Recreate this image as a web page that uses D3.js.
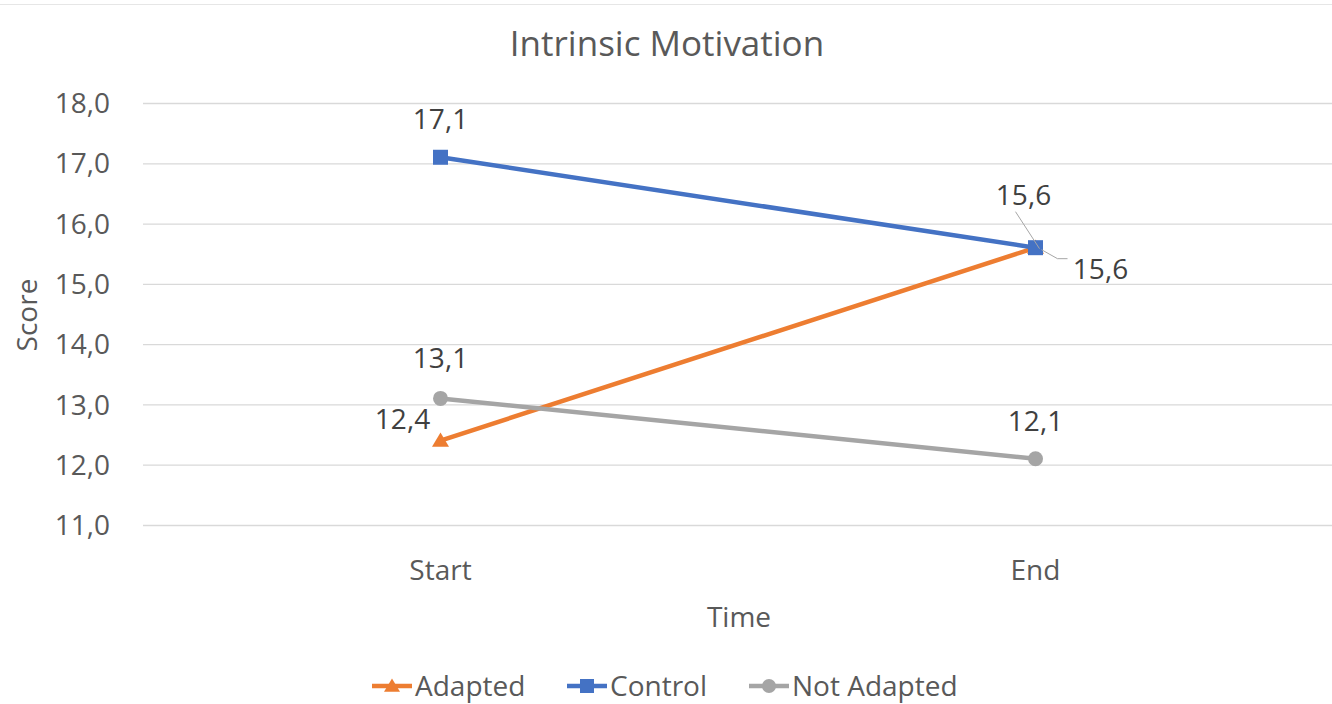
<!DOCTYPE html>
<html><head><meta charset="utf-8">
<script src="https://cdn.jsdelivr.net/npm/d3@7"></script>
<style>body{margin:0;background:#fff;}svg{display:block;}</style>
</head><body>
<svg id="c" width="1332" height="704"></svg>
<script>
const categories = ["Start", "End"];
const seriesNames = ["Adapted", "Control", "Not Adapted"];
const adapted = [12.4, 15.6];
const control = [17.1, 15.6];
const notAdapted = [13.1, 12.1];
const yTicks = [11, 12, 13, 14, 15, 16, 17, 18];
const colors = ["#ED7D31", "#4472C4", "#A5A5A5"];
const markers = ["triangle", "square", "circle"];
const seriesValues = [adapted, control, notAdapted];

const svg = d3.select("#c");
const font = "'Open Sans', sans-serif";
const fs = 28;
const fmt = v => d3.format(".1f")(v).replace(".", ",");

const x = d3.scaleBand().domain(categories).range([143, 1333]);
const y = d3.scaleLinear().domain([11, 18]).range([525, 103]);
const xc = c => x(c) + x.bandwidth() / 2;

svg.append("line").attr("x1", 0).attr("x2", 1332).attr("y1", 4.5).attr("y2", 4.5).attr("stroke", "#e6e6e6");

// gridlines
svg.append("g").selectAll("line").data(yTicks).join("line")
  .attr("x1", 143).attr("x2", 1332)
  .attr("y1", d => y(d) + 0.5).attr("y2", d => y(d) + 0.5)
  .attr("stroke", "#d9d9d9").attr("stroke-width", 1.3);

// y tick labels
svg.append("g").selectAll("text").data(yTicks).join("text")
  .attr("x", 110).attr("y", d => y(d)).attr("dy", "0.36em")
  .attr("text-anchor", "end").attr("font-family", font).attr("font-size", fs)
  .attr("fill", "#595959").text(d => fmt(d));

// x labels
svg.append("g").selectAll("text").data(categories).join("text")
  .attr("x", d => xc(d)).attr("y", 580)
  .attr("text-anchor", "middle").attr("font-family", font).attr("font-size", fs)
  .attr("fill", "#595959").text(d => d);

// title
svg.append("text").attr("x", 667).attr("y", 56).attr("text-anchor", "middle")
  .attr("font-family", font).attr("font-size", 35).attr("fill", "#595959").text("Intrinsic Motivation");
// axis titles
svg.append("text").attr("x", 739).attr("y", 627).attr("text-anchor", "middle")
  .attr("font-family", font).attr("font-size", fs).attr("fill", "#595959").text("Time");
svg.append("text").attr("transform", "translate(37,315) rotate(-90)").attr("text-anchor", "middle")
  .attr("font-family", font).attr("font-size", fs).attr("fill", "#595959").text("Score");

function drawMarker(g, type, cx, cy, color, s) {
  if (type === "square") {
    g.append("rect").attr("x", cx - s / 2).attr("y", cy - s / 2).attr("width", s).attr("height", s).attr("fill", color);
  } else if (type === "circle") {
    g.append("circle").attr("cx", cx).attr("cy", cy).attr("r", s / 2).attr("fill", color);
  } else {
    const h = s * 0.9;
    g.append("path").attr("d", `M${cx},${cy - h * 0.6}L${cx + s / 2 + 1},${cy + h * 0.45}L${cx - s / 2 - 1},${cy + h * 0.45}Z`).attr("fill", color);
  }
}

const line = d3.line().x((d, i) => xc(categories[i])).y(d => y(d));
const plot = svg.append("g");
seriesValues.forEach((vals, si) => {
  plot.append("path").attr("d", line(vals)).attr("fill", "none")
    .attr("stroke", colors[si]).attr("stroke-width", 4.5).attr("stroke-linecap", "round");
  vals.forEach((v, i) => drawMarker(plot, markers[si], xc(categories[i]), y(v), colors[si], 15));
});

// data labels
const lab = svg.append("g").attr("font-family", font).attr("font-size", fs).attr("fill", "#404040");
function label(xp, yp, t, anchor) {
  lab.append("text").attr("x", xp).attr("y", yp).attr("text-anchor", anchor || "middle").text(t);
}
label(xc("Start"), y(control[0]) - 28, fmt(control[0]));
label(xc("End") - 12, y(control[1]) - 43, fmt(control[1]));
svg.append("path").attr("d", `M${xc("End") - 20},${y(control[1]) - 36}L${xc("End") + 4},${y(control[1]) + 1}`)
  .attr("stroke", "#a6a6a6").attr("fill", "none").attr("stroke-width", 1);
label(xc("Start") - 38, y(adapted[0]) - 12, fmt(adapted[0]));
label(xc("End") + 65, y(adapted[1]) + 31, fmt(adapted[1]));
svg.append("path").attr("d", `M${xc("End") + 6},${y(adapted[1]) + 2}L${xc("End") + 22},${y(adapted[1]) + 11}L${xc("End") + 32},${y(adapted[1]) + 11}`)
  .attr("stroke", "#a6a6a6").attr("fill", "none").attr("stroke-width", 1);
label(xc("Start"), y(notAdapted[0]) - 30, fmt(notAdapted[0]));
label(xc("End"), y(notAdapted[1]) - 28, fmt(notAdapted[1]));

// legend
const legX = [372, 567, 749];
const leg = svg.append("g");
seriesNames.forEach((n, i) => {
  const lx = legX[i], ly = 686;
  leg.append("line").attr("x1", lx).attr("x2", lx + 40).attr("y1", ly).attr("y2", ly)
    .attr("stroke", colors[i]).attr("stroke-width", 4.5);
  drawMarker(leg, markers[i], lx + 20, ly, colors[i], 14);
  leg.append("text").attr("x", lx + 43).attr("y", ly).attr("dy", "0.34em")
    .attr("font-family", font).attr("font-size", fs).attr("fill", "#595959").text(n);
});
</script>
</body></html>
